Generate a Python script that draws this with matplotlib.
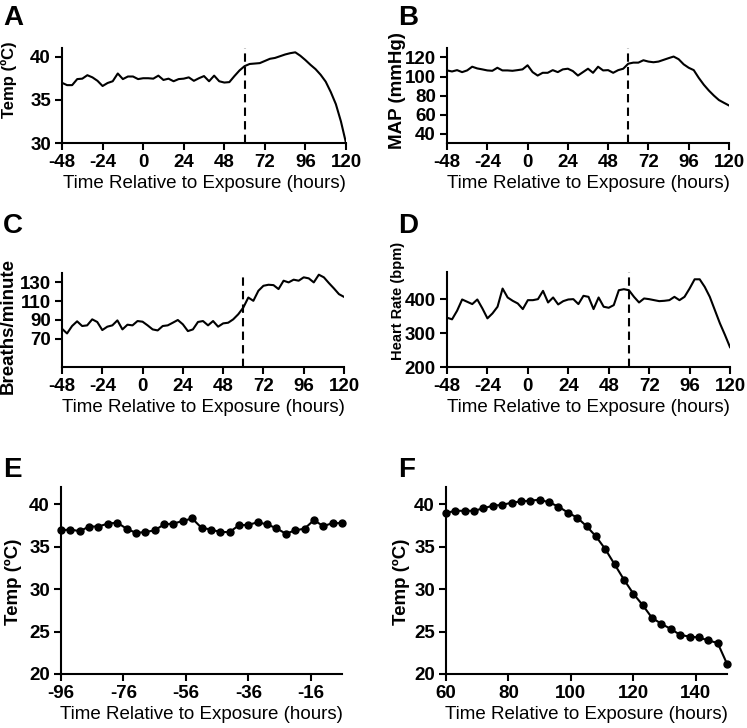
import numpy as np
import matplotlib
matplotlib.use("Agg")
import matplotlib.pyplot as plt

plt.rcParams['font.family'] = ['Liberation Sans', 'DejaVu Sans']
plt.rcParams['axes.unicode_minus'] = False

# Panels A-D: course sampled every 3 h from -48 to 120
hours_ad = np.arange(-48, 121, 3)

temp_a = [36.97, 36.7, 36.7, 37.4, 37.45, 37.85, 37.6, 37.2, 36.6, 36.95,
          37.15, 38.05, 37.4, 37.7, 37.7, 37.4, 37.5, 37.5, 37.45, 37.8,
          37.3, 37.45, 37.15, 37.4, 37.45, 37.6, 37.2, 37.5, 37.75, 37.15,
          37.8, 37.15, 37.0, 37.05, 37.75, 38.4, 38.9, 39.15, 39.2, 39.25,
          39.5, 39.75, 39.85, 40.05, 40.25, 40.4, 40.5, 40.1, 39.6, 39.05,
          38.55, 37.9, 37.1, 35.9, 34.5, 32.5, 30.0]

map_b = [106.4, 105.3, 106.7, 104.6, 106.4, 110.3, 108.5, 107.5, 106.4, 106.0,
         109.2, 106.4, 106.4, 106.0, 106.7, 107.5, 111.8, 104.6, 101.0, 103.9,
         103.9, 106.7, 104.6, 107.5, 108.2, 105.7, 101.0, 104.6, 108.2, 103.9,
         110.3, 106.4, 106.7, 103.9, 106.7, 108.2, 113.5, 114.6, 114.6, 117.1,
         115.7, 115.0, 115.7, 117.5, 119.3, 121.0, 118.2, 112.8, 109.2, 106.7,
         98.5, 91.3, 85.2, 79.9, 75.2, 72.3, 69.5]

resp_c = [80.7, 75.7, 83.6, 88.6, 83.6, 84.3, 90.7, 87.9, 79.3, 82.9,
          84.3, 89.6, 80.0, 85.0, 84.3, 88.9, 88.2, 84.3, 80.0, 78.9,
          83.6, 84.3, 87.1, 90.0, 85.4, 78.2, 80.0, 87.9, 88.9, 84.3,
          88.9, 82.9, 86.4, 87.1, 90.7, 96.1, 103.2, 113.9, 110.4, 121.1,
          126.4, 127.5, 127.1, 122.9, 131.8, 130.0, 132.9, 131.8, 135.4, 134.3,
          130.0, 138.2, 135.4, 129.3, 123.6, 117.5, 114.6]

hr_d = [345.4, 340.5, 365.9, 399.0, 392.2, 385.4, 399.0, 372.7, 343.4, 358.0,
        377.6, 431.2, 404.9, 395.1, 387.3, 370.7, 397.0, 397.0, 400.0, 424.4,
        390.2, 404.9, 384.4, 394.1, 399.0, 400.0, 385.4, 409.8, 406.8, 370.7,
        404.9, 377.6, 374.6, 382.4, 426.3, 429.3, 426.3, 406.8, 390.2, 402.0,
        400.0, 397.0, 394.1, 395.1, 397.0, 406.8, 397.0, 406.8, 431.2, 458.5,
        458.5, 436.1, 406.8, 367.8, 328.8, 294.6, 258.5]

# Panel E: pre-exposure, Panel F: post-exposure (3 h steps)
hours_e = np.arange(-96, -5, 3)
temp_e = [36.9, 37.0, 36.8, 37.35, 37.35, 37.7, 37.8, 37.1, 36.6, 36.7,
          36.9, 37.6, 37.7, 38.0, 38.3, 37.2, 37.0, 36.7, 36.7, 37.5,
          37.55, 37.85, 37.6, 37.15, 36.5, 36.9, 37.1, 38.1, 37.4, 37.75,
          37.75]

hours_f = np.arange(60, 151, 3)
temp_f = [38.95, 39.2, 39.2, 39.2, 39.5, 39.8, 39.9, 40.15, 40.3, 40.4,
          40.5, 40.2, 39.7, 39.0, 38.4, 37.4, 36.2, 34.7, 32.9, 31.1,
          29.45, 28.1, 26.6, 25.9, 25.3, 24.6, 24.4, 24.3, 23.95, 23.65,
          21.2]

exposure_mark = 60
xlabel = "Time Relative to Exposure (hours)"
FS = 13.5

W, H = 747, 728
fig = plt.figure(figsize=(W / 100, H / 100), dpi=100)


def make_axes(left, right, top, bottom):
    return fig.add_axes([left / W, 1 - bottom / H, (right - left) / W, (bottom - top) / H])


def style(ax, ylabel, label_xy, ylabel_fs=FS):
    for s in ["top", "right"]:
        ax.spines[s].set_visible(False)
    for s in ["left", "bottom"]:
        ax.spines[s].set_linewidth(1.5)
    ax.tick_params(direction="out", length=5, width=1.5, labelsize=FS, pad=3)
    for lab in ax.get_xticklabels() + ax.get_yticklabels():
        lab.set_fontweight("bold")
    ax.set_xlabel(xlabel, fontsize=FS, labelpad=3)
    ax.set_ylabel(ylabel, fontsize=ylabel_fs, fontweight="bold")
    ax.yaxis.set_label_coords(*label_xy)


def panel_line(ax, y, ylim, yticks, ylabel, label_xy, ylabel_fs=FS):
    ax.plot(hours_ad, y, color="black", lw=1.5)
    ax.axvline(exposure_mark, color="black", lw=1.5, ls=(0, (4, 2.5)))
    ax.set_xlim(-48, 120)
    ax.set_xticks(np.arange(-48, 121, 24))
    ax.set_ylim(*ylim)
    ax.set_yticks(yticks)
    style(ax, ylabel, label_xy, ylabel_fs)


ax_a = make_axes(62, 346, 48, 143)
panel_line(ax_a, temp_a, (30, 41), [30, 35, 40], "Temp (\u00baC)", (-0.158, 0.67), 12)

ax_b = make_axes(447, 729, 48, 143)
panel_line(ax_b, map_b, (30, 130), [40, 60, 80, 100, 120], "MAP (mmHg)", (-0.145, 0.547))

ax_c = make_axes(62, 344, 273, 367)
panel_line(ax_c, resp_c, (40, 140), [70, 90, 110, 130], "Breaths/minute", (-0.160, 0.436))

ax_d = make_axes(447, 730, 272, 367)
panel_line(ax_d, hr_d, (200, 480), [200, 300, 400], "Heart Rate (bpm)", (-0.148, 0.70), 10.5)

ax_e = make_axes(61, 342, 487, 674)
ax_e.plot(hours_e, temp_e, color="black", lw=1.5, marker="o", ms=5, clip_on=False)
ax_e.set_xlim(-96, -6)
ax_e.set_xticks([-96, -76, -56, -36, -16])
ax_e.set_ylim(20, 42)
ax_e.set_yticks([20, 25, 30, 35, 40])
style(ax_e, "Temp (\u00baC)", (-0.139, 0.492))

ax_f = make_axes(446, 727, 487, 674)
ax_f.plot(hours_f, temp_f, color="black", lw=1.5, marker="o", ms=5, clip_on=False)
ax_f.set_xlim(60, 150)
ax_f.set_xticks([60, 80, 100, 120, 140])
ax_f.set_ylim(20, 42)
ax_f.set_yticks([20, 25, 30, 35, 40])
style(ax_f, "Temp (\u00baC)", (-0.128, 0.492))

letters = [("A", 3, 25), ("B", 398, 25), ("C", 3, 233), ("D", 398, 233),
           ("E", 3, 477), ("F", 398, 477)]
for letter, x, y in letters:
    fig.text(x / W, 1 - y / H, letter, fontsize=20, fontweight="bold", va="baseline")

fig.savefig("out.png", dpi=100)
